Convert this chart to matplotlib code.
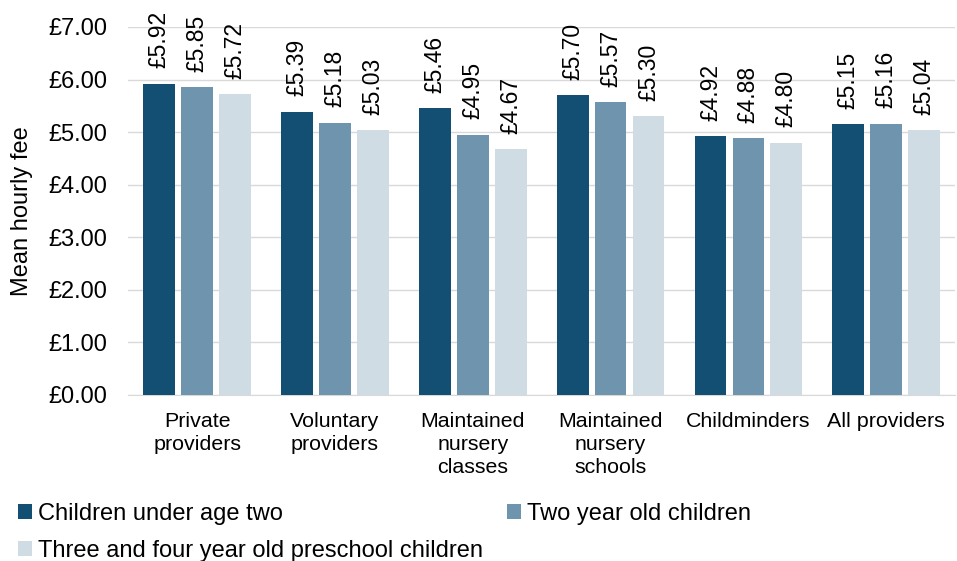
import matplotlib
matplotlib.use("Agg")
import matplotlib.pyplot as plt
import numpy as np
from matplotlib.patches import Patch

plt.rcParams['font.family'] = ['Liberation Sans', 'DejaVu Sans']

categories = ["Private\nproviders", "Voluntary\nproviders", "Maintained\nnursery\nclasses",
              "Maintained\nnursery\nschools", "Childminders", "All providers"]
series_names = ["Children under age two", "Two year old children",
                "Three and four year old preschool children"]
under_two = [5.92, 5.39, 5.46, 5.70, 4.92, 5.15]
two_year = [5.85, 5.18, 4.95, 5.57, 4.88, 5.16]
three_four = [5.72, 5.03, 4.67, 5.30, 4.80, 5.04]
colors = ["#134F73", "#6E94AE", "#CFDCE4"]
yticks = [0, 1, 2, 3, 4, 5, 6, 7]

fig = plt.figure(figsize=(9.57, 5.61), dpi=100)
ax = fig.add_axes([0.134, 0.296, 0.864, 0.656])

x = np.arange(len(categories))
w = 0.23
step = 0.275
for i, (vals, c) in enumerate(zip([under_two, two_year, three_four], colors)):
    pos = x + (i - 1) * step
    ax.bar(pos, vals, width=w, color=c, zorder=3)
    for p, v in zip(pos, vals):
        ax.annotate(f"£{v:.2f}", (p, v), xytext=(0, 11), textcoords='offset points',
                    rotation=90, ha='center', va='bottom', fontsize=16.5, color='#000000')

ax.set_xlim(-0.5, len(categories) - 0.5)
ax.set_ylim(0, 7)
ax.set_yticks(yticks)
ax.set_yticklabels([f"£{t:.2f}" for t in yticks], fontsize=17)
ax.tick_params(axis='y', length=0, pad=15)
ax.set_xticks(x)
ax.set_xticklabels(categories, fontsize=15.4, linespacing=1.28)
ax.tick_params(axis='x', length=0, pad=12)
ax.grid(axis='y', color='#D9D9D9', linewidth=1, zorder=0)
for s in ['top', 'right', 'left']:
    ax.spines[s].set_visible(False)
ax.spines['bottom'].set_color('#D9D9D9')
ax.set_ylabel("Mean hourly fee", fontsize=17, labelpad=11)

handles = [Patch(facecolor=c, edgecolor='none') for c in colors]
order = [0, 2, 1]
fig.legend([handles[i] for i in order], [series_names[i] for i in order],
           loc='upper left', bbox_to_anchor=(18 / 957, 1 - 503 / 561),
           ncol=2, frameon=False, fontsize=17, handlelength=0.6, handleheight=0.6,
           handletextpad=0.25, columnspacing=1.0, borderaxespad=0, borderpad=0,
           labelspacing=0.62)

fig.savefig("out.png", dpi=100)
